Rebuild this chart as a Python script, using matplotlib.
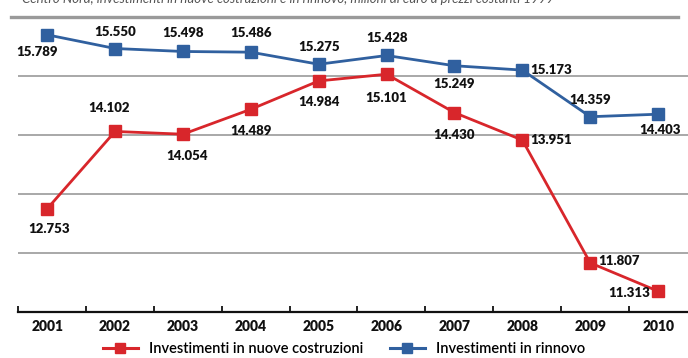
import matplotlib
matplotlib.use("Agg")
import matplotlib.pyplot as plt
from matplotlib.lines import Line2D
import numpy as np

# data (milioni di euro a prezzi costanti 1999)
years = [2001, 2002, 2003, 2004, 2005, 2006, 2007, 2008, 2009, 2010]
nuove = [12753, 14102, 14054, 14489, 14984, 15101, 14430, 13951, 11807, 11313]
rinnovo = [15789, 15550, 15498, 15486, 15275, 15428, 15249, 15173, 14359, 14403]
title = "Centro Nord, investimenti in nuove costruzioni e in rinnovo, milioni di euro a prezzi costanti 1999"
label_nuove = "Investimenti in nuove costruzioni"
label_rinnovo = "Investimenti in rinnovo"

# label offsets in pixels (dx, dy, ha)
off_rinnovo = [(-10, -17, "center"), (0, 17, "center"), (0, 18, "center"), (0, 19, "center"),
               (0, 17, "center"), (0, 17, "center"), (0, -18, "center"), (8, 0, "left"),
               (0, 17, "center"), (2, -16, "center")]
off_nuove = [(2, -20, "center"), (-6, 23, "center"), (4, -22, "center"), (0, -22, "center"),
             (0, -21, "center"), (0, -24, "center"), (0, -22, "center"), (8, 0, "left"),
             (8, 2, "left"), (-8, -2, "right")]

blue = "#30609f"
red = "#d8262b"
W, H = 688, 358
fam = ["Lato", "DejaVu Sans"]


def fmt(v):
    return f"{v:,}".replace(",", ".")


fig = plt.figure(figsize=(W / 100, H / 100), dpi=100)
ax = fig.add_axes([18 / W, (H - 312) / H, (W - 18) / W, 295 / H])
ax.set_xlim(2000.57, 2010.44)
ax.set_ylim(10950, 16100)

# gridlines
grid_y = np.linspace(10950, 16100, 6)
for g in grid_y[1:-1]:
    ax.axhline(g, color="#a8a8a8", lw=1.4, zorder=0)
ax.axhline(grid_y[-1], xmin=-0.01, xmax=0.985, color="#9a9a9a", lw=2.4, zorder=0, clip_on=False)

ax.plot(years, rinnovo, color=blue, lw=2.0, marker="s", ms=8.5, zorder=3)
ax.plot(years, nuove, color=red, lw=2.0, marker="s", ms=8.5, zorder=3)

for x, v, (dx, dy, ha) in zip(years, rinnovo, off_rinnovo):
    ax.annotate(fmt(v), (x, v), xytext=(dx, dy), textcoords="offset pixels",
                ha=ha, va="center", fontsize=9.5, fontweight="heavy",
                family=fam, color="#111111", zorder=4)
for x, v, (dx, dy, ha) in zip(years, nuove, off_nuove):
    ax.annotate(fmt(v), (x, v), xytext=(dx, dy), textcoords="offset pixels",
                ha=ha, va="center", fontsize=9.5, fontweight="heavy",
                family=fam, color="#111111", zorder=4)

for s in ["top", "right", "left"]:
    ax.spines[s].set_visible(False)
ax.spines["bottom"].set_linewidth(1.6)
ax.spines["bottom"].set_color("#111111")
ax.set_yticks([])
ax.set_xticks(years)
ax.set_xticklabels([str(y) for y in years], fontsize=10, fontweight="heavy",
                   family=fam, color="#111111")
ax.tick_params(axis="x", which="major", length=0, pad=6)
ax.set_xticks([y - 0.43 for y in years], minor=True)
ax.tick_params(axis="x", which="minor", direction="in", length=4, width=1.3, color="#111111")

fig.text(22 / W, 1 - 3 / H, title, ha="left", va="baseline", fontsize=9.5,
         style="italic", color="#555555", family=fam)

handles = [Line2D([], [], color=red, lw=2.2, marker="s", ms=7),
           Line2D([], [], color=blue, lw=2.2, marker="s", ms=7)]
fig.legend(handles, [label_nuove, label_rinnovo], loc="center", bbox_to_anchor=(0.5, 1 - 349 / H),
           ncol=2, frameon=False, handlelength=2.4, columnspacing=1.8, handletextpad=0.8,
           prop={"family": fam, "size": 10.5, "weight": "semibold"}, borderpad=0)

fig.savefig("out.png", dpi=100)
